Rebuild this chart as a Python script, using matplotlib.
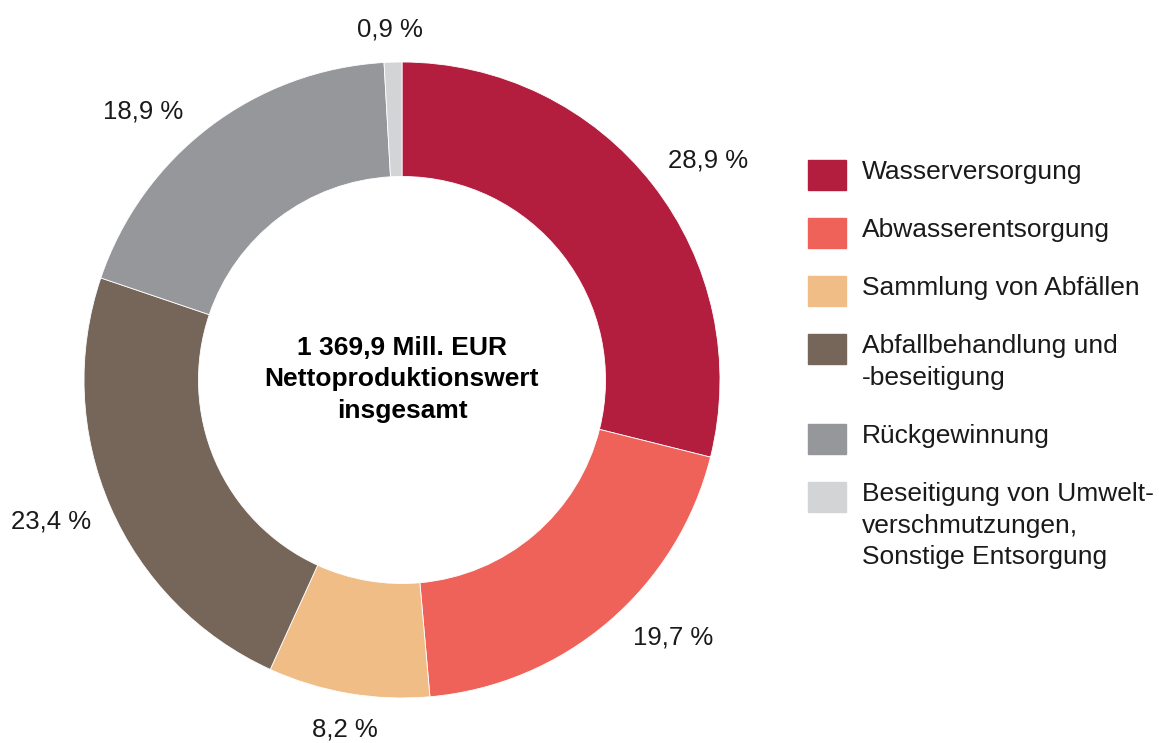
import matplotlib
matplotlib.use("Agg")
import numpy as np
import matplotlib.pyplot as plt
from matplotlib.patches import Rectangle

plt.rcParams['font.family'] = ['Liberation Sans', 'DejaVu Sans']

# Anteile am Nettoproduktionswert (%)
kategorien = [
    'Wasserversorgung',
    'Abwasserentsorgung',
    'Sammlung von Abfällen',
    'Abfallbehandlung und\n-beseitigung',
    'Rückgewinnung',
    'Beseitigung von Umwelt-\nverschmutzungen,\nSonstige Entsorgung',
]
anteile = [28.9, 19.7, 8.2, 23.4, 18.9, 0.9]
farben = ['#B31E3F', '#EE625A', '#F0BD87', '#76665A', '#96979B', '#D3D4D6']
mitte_text = '1 369,9 Mill. EUR\nNettoproduktionswert\ninsgesamt'

# kleine Winkelkorrekturen der Beschriftungen (Grad), wie im Original gesetzt
label_dreh = [-2.3, 6.0, 0.5, -1.4, 6.7, 0.4]

W, H = 1159, 743
fig = plt.figure(figsize=(W / 100, H / 100), dpi=100)

# Donut
cx, cy, R = 402, 380, 318
ax = fig.add_axes([(cx - R) / W, (H - cy - R) / H, 2 * R / W, 2 * R / H])
wedges, _, autotexts = ax.pie(
    anteile, colors=farben, startangle=90, counterclock=False,
    radius=1.0, wedgeprops=dict(width=0.36, edgecolor='white', linewidth=0.6),
    autopct=lambda p: f'{p:.1f}'.replace('.', ',') + ' %',
    pctdistance=1.15, textprops=dict(fontsize=18.5, color='#1a1a1a'))
ax.set_xlim(-1, 1)
ax.set_ylim(-1, 1)
ax.set_aspect('equal')
ax.axis('off')

# Prozentwerte außen, abhängig von der Textgröße verschieben
fig.canvas.draw()
r = fig.canvas.get_renderer()
for w, t, dw in zip(wedges, autotexts, label_dreh):
    a = np.deg2rad((w.theta1 + w.theta2) / 2 + dw)
    bb = t.get_window_extent(r)
    hw, hh = bb.width / 2 / R, bb.height / 2 / R
    d = 1.06 + abs(np.cos(a)) * hw + abs(np.sin(a)) * hh
    t.set_position((d * np.cos(a), d * np.sin(a)))

ax.text(0, 0.002, mitte_text, ha='center', va='center', fontsize=19,
        fontweight='bold', linespacing=1.38)

# Legende
lx, tx = 808, 862
y = 175
for lab, col in zip(kategorien, farben):
    fig.patches.append(Rectangle((lx / W, 1 - (y + 15) / H), 38 / W, 30 / H,
                                 transform=fig.transFigure, color=col))
    fig.text(tx / W, 1 - (y - 15) / H, lab, ha='left', va='top', fontsize=19,
             color='#1a1a1a', linespacing=1.4)
    y += 58 + 32 * lab.count('\n')

fig.savefig('out.png', dpi=100)
